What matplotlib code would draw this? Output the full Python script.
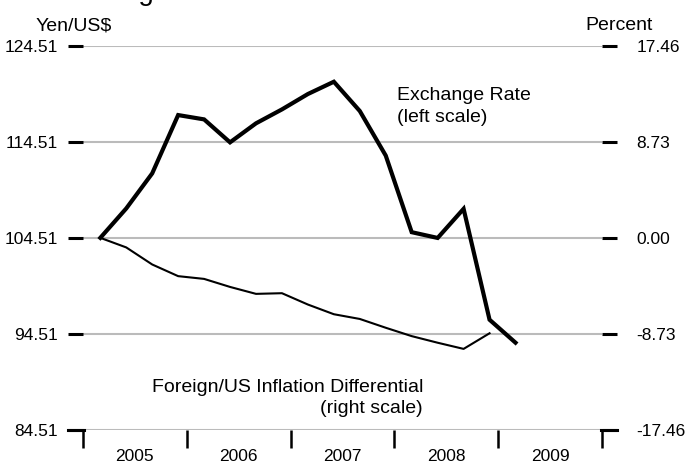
import matplotlib
matplotlib.use("Agg")
import matplotlib.pyplot as plt
from matplotlib.ticker import FixedLocator, NullFormatter, FixedFormatter

plt.rcParams['font.family'] = ['Liberation Sans', 'DejaVu Sans']

# quarterly observations, starting March 2005
start = 2005 + 2 / 12
yen_usd = [104.51, 107.57, 111.22, 117.29, 116.84, 114.45, 116.43, 117.88,
           119.48, 120.76, 117.71, 113.07, 105.10, 104.50, 107.53, 95.99, 93.60]
infl_diff = [0.00, -0.87, -2.42, -3.48, -3.73, -4.46, -5.09, -5.03,
             -6.06, -6.94, -7.37, -8.17, -8.93, -9.53, -10.09, -8.67]
years = ['2005', '2006', '2007', '2008', '2009']
left_ticks = [84.51, 94.51, 104.51, 114.51, 124.51]
right_ticks = [-17.46, -8.73, 0.00, 8.73, 17.46]

W, H = 688, 466
fig = plt.figure(figsize=(W / 100, H / 100), dpi=100)
ax = fig.add_axes([83 / W, 1 - 430 / H, (602 - 83) / W, (430 - 45.7) / H])
ax2 = ax.twinx()

t_fx = [start + 0.25 * i for i in range(len(yen_usd))]
t_inf = [start + 0.25 * i for i in range(len(infl_diff))]

ax.set_xlim(2005, 2010)
ax.set_ylim(left_ticks[0], left_ticks[-1])
ax2.set_ylim(right_ticks[0], right_ticks[-1])

# grid
for v in left_ticks:
    ax.axhline(v, color='#bbbbbb', lw=1.5, zorder=0)

ax.plot(t_fx, yen_usd, color='black', lw=3.0, solid_joinstyle='miter', zorder=3)
ax2.plot(t_inf, infl_diff, color='black', lw=1.5, zorder=3)

for a in (ax, ax2):
    for s in a.spines.values():
        s.set_visible(False)

ax.set_yticks(left_ticks)
ax.set_yticklabels(['%.2f' % v for v in left_ticks])
ax.tick_params(axis='y', length=11, width=2.2, pad=7, labelsize=12.5, left=True, right=False)
ax2.set_yticks(right_ticks)
ax2.set_yticklabels(['%.2f' % v for v in right_ticks])
ax2.tick_params(axis='y', length=11, width=2.2, pad=14, labelsize=12.5, right=True, left=False)

# year boundaries as major ticks, labels centred between them
ax.xaxis.set_major_locator(FixedLocator([2005, 2006, 2007, 2008, 2009, 2010]))
ax.xaxis.set_major_formatter(NullFormatter())
ax.xaxis.set_minor_locator(FixedLocator([2005.5, 2006.5, 2007.5, 2008.5, 2009.5]))
ax.xaxis.set_minor_formatter(FixedFormatter(years))
ax.tick_params(axis='x', which='major', length=13, width=1.8, direction='out')
ax.tick_params(axis='x', which='minor', length=0, pad=14, labelsize=12.5)

# short horizontal caps at the bottom corners
fig.add_artist(plt.Line2D([68 / W, 84 / W], [1 - 430 / H] * 2, color='black', lw=2.2))
fig.add_artist(plt.Line2D([601 / W, 617 / W], [1 - 430 / H] * 2, color='black', lw=2.2))

def px(x, y):
    return x / W, 1 - y / H

fig.text(*px(36, 30), 'Yen/US$', fontsize=14, va='baseline', ha='left')
fig.text(*px(653, 30), 'Percent', fontsize=14, va='baseline', ha='right')
fig.text(*px(397, 100), 'Exchange Rate', fontsize=14, va='baseline', ha='left')
fig.text(*px(397, 122), '(left scale)', fontsize=14, va='baseline', ha='left')
fig.text(*px(423, 392), 'Foreign/US Inflation Differential', fontsize=14, va='baseline', ha='right')
fig.text(*px(423, 413), '(right scale)', fontsize=14, va='baseline', ha='right')
# title, cut off by the top edge
fig.text(*px(170, 0), 'Exchange', fontsize=20, va='baseline', ha='right')

fig.savefig('out.png', dpi=100)
